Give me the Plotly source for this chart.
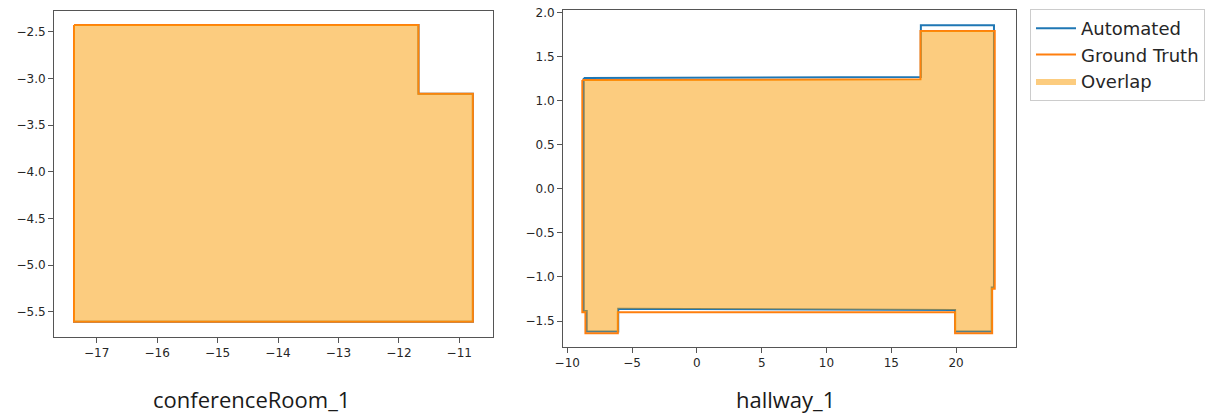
import plotly.graph_objects as go

# ---------------- data ----------------
# conferenceRoom_1 polygons (automated and ground truth coincide)
conf_auto_x = [-17.376, -11.675, -11.675, -10.775, -10.775, -17.376]
conf_auto_y = [-2.428, -2.428, -3.164, -3.164, -5.607, -5.607]
conf_gt_x = [-17.376, -11.675, -11.675, -10.775, -10.775, -17.376]
conf_gt_y = [-2.428, -2.428, -3.164, -3.164, -5.607, -5.607]
conf_overlap_x = [-17.376, -11.675, -11.675, -10.775, -10.775, -17.376]
conf_overlap_y = [-2.428, -2.428, -3.164, -3.164, -5.607, -5.607]

# hallway_1 polygons
hall_auto_x = [-8.73, 17.28, 17.28, 22.92, 22.92, 22.75, 22.75, 19.92, 19.92, -6.07, -6.07, -8.50, -8.50, -8.73]
hall_auto_y = [1.260, 1.270, 1.857, 1.857, -1.120, -1.120, -1.620, -1.620, -1.375, -1.362, -1.620, -1.620, -1.385, -1.385]
hall_gt_x = [-8.84, 17.25, 17.25, 22.98, 22.98, 22.78, 22.78, 19.92, 19.92, -6.10, -6.10, -8.60, -8.60, -8.84]
hall_gt_y = [1.235, 1.245, 1.792, 1.792, -1.135, -1.135, -1.640, -1.640, -1.400, -1.400, -1.640, -1.640, -1.400, -1.400]
hall_overlap_x = [-8.73, 17.28, 17.28, 22.92, 22.92, 22.78, 22.78, 19.92, 19.92, -6.07, -6.07, -8.50, -8.50, -8.73]
hall_overlap_y = [1.235, 1.245, 1.792, 1.792, -1.135, -1.135, -1.620, -1.620, -1.375, -1.362, -1.620, -1.620, -1.400, -1.400]

series_names = ["Automated", "Ground Truth", "Overlap"]
captions = ["conferenceRoom_1", "hallway_1"]

BLUE = "#1f77b4"
ORANGE = "#ff7f0e"
FILL = "rgba(249,153,0,0.5)"


def closed(v):
    return list(v) + [v[0]]


fig = go.Figure()

panels = [
    ("x", "y", conf_auto_x, conf_auto_y, conf_gt_x, conf_gt_y, conf_overlap_x, conf_overlap_y, False),
    ("x2", "y2", hall_auto_x, hall_auto_y, hall_gt_x, hall_gt_y, hall_overlap_x, hall_overlap_y, True),
]
for xa, ya, ax_, ay_, gx, gy, ox, oy, leg in panels:
    fig.add_trace(go.Scatter(x=closed(ax_), y=closed(ay_), mode="lines", xaxis=xa, yaxis=ya,
                             line=dict(color=BLUE, width=2), name=series_names[0], showlegend=leg,
                             hoverinfo="skip"))
    fig.add_trace(go.Scatter(x=closed(gx), y=closed(gy), mode="lines", xaxis=xa, yaxis=ya,
                             line=dict(color=ORANGE, width=2), name=series_names[1], showlegend=leg,
                             hoverinfo="skip"))
    fig.add_trace(go.Scatter(x=closed(ox), y=closed(oy), mode="lines", fill="toself", xaxis=xa, yaxis=ya,
                             line=dict(width=0, color=FILL), fillcolor=FILL, name=series_names[2],
                             showlegend=leg, hoverinfo="skip"))

W, H = 1213, 416
tickfont = dict(family="DejaVu Sans", size=12, color="#262626")
axis_common = dict(showgrid=False, zeroline=False, showline=True, mirror=True, linecolor="#555",
                   linewidth=1, ticks="outside", ticklen=5, tickcolor="#555", tickwidth=1,
                   tickfont=tickfont, automargin=False)

fig.update_layout(
    width=W, height=H,
    margin=dict(l=0, r=0, t=0, b=0, autoexpand=False),
    paper_bgcolor="white", plot_bgcolor="white",
    xaxis=dict(domain=[54 / W, 493 / W], range=[-17.707, -10.442], dtick=1, anchor="y", **axis_common),
    yaxis=dict(domain=[(H - 337) / H, (H - 11) / H], range=[-5.771, -2.278], dtick=0.5, anchor="x",
               tickformat=".1f", **axis_common),
    xaxis2=dict(domain=[563 / W, 1016 / W], range=[-10.33, 24.62], dtick=5, anchor="y2", **axis_common),
    yaxis2=dict(domain=[(H - 347) / H, (H - 10) / H], range=[-1.795, 2.031], dtick=0.5, anchor="x2",
                tickformat=".1f", **axis_common),
    legend=dict(x=1030 / W, y=1 - 9 / H, xanchor="left", yanchor="top",
                bordercolor="#cccccc", borderwidth=1, bgcolor="white",
                font=dict(family="DejaVu Sans", size=18, color="#262626"),
                itemwidth=40, tracegroupgap=0),
    showlegend=True,
    annotations=[
        dict(text=captions[0], x=251 / W, y=1 - 399 / H, xref="paper", yref="paper",
             showarrow=False, font=dict(family="Open Sans", size=22, color="#1a1a1a"),
             xanchor="center", yanchor="middle"),
        dict(text=captions[1], x=785 / W, y=1 - 399 / H, xref="paper", yref="paper",
             showarrow=False, font=dict(family="Open Sans", size=22, color="#1a1a1a"),
             xanchor="center", yanchor="middle"),
    ],
)

fig.write_html("out.html", config={"displayModeBar": False},
               post_script="document.body.style.margin='0';")
